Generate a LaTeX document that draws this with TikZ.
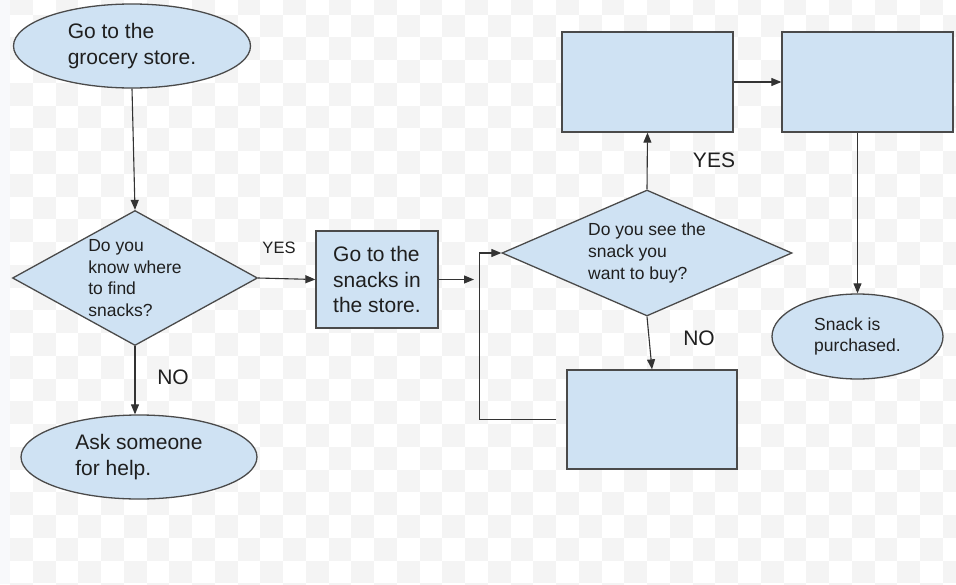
\documentclass[tikz,border=0pt]{standalone}
\usepackage{fontspec}
\setmainfont{Liberation Sans}
\usetikzlibrary{shapes.geometric,arrows.meta,calc}
\definecolor{boxblue}{HTML}{CFE2F3}
\definecolor{edgegray}{HTML}{4A4A4A}
\definecolor{checkgray}{HTML}{F4F4F4}
\definecolor{stripgray}{HTML}{F8F9FB}

\begin{document}
\begin{tikzpicture}[x=1pt, y=-1pt,
  every node/.style={font=\fontsize{17.5}{21.7}\selectfont, text=black!88},
  big/.style={font=\fontsize{21}{25.3}\selectfont},
  terminal/.style={ellipse, draw=edgegray, fill=boxblue, line width=1.3pt, inner sep=0pt, align=left},
  decision/.style={diamond, draw=edgegray, fill=boxblue, line width=1.3pt, inner sep=0pt, align=left},
  process/.style={rectangle, draw=edgegray, fill=boxblue, line width=1.3pt, inner sep=0pt, align=left},
  flow/.style={draw=black!80, line width=1.1pt, -{Triangle[length=10pt,width=8pt]}}]
  \useasboundingbox (0,0) rectangle (956,584);
  % checkered background
  \begin{scope}
    \clip (0,0) rectangle (956,584);
    \fill[white] (0,0) rectangle (956,584);
    \foreach \i in {0,...,41}{
      \foreach \j in {-1,...,25}{
        \pgfmathtruncatemacro{\cellodd}{mod(\i+\j+2,2)}
        \ifnum\cellodd=1
          \fill[checkgray] ({10+22.75*\i},{14.6+22.75*\j}) rectangle +(22.75,22.75);
        \fi
      }
    }
    \fill[stripgray] (0,0) rectangle (10,584);
  \end{scope}
  % left column
  \node[terminal, big, minimum width=237, minimum height=84] (grocery) at (132,46) {Go to the\\grocery store.};
  \node[decision, shape aspect=1.81, minimum width=245, minimum height=135] (knowwhere) at (135,278) {Do you\\know where\\to find\\snacks?};
  \node[terminal, big, minimum width=236, minimum height=84] (askhelp) at (139,457) {Ask someone\\for help.};
  % middle
  \node[process, big, minimum width=122, minimum height=97] (snacks) at (377,279.5) {Go to the\\snacks in\\the store.};
  \node[decision, shape aspect=2.3, minimum width=290, minimum height=126] (seesnack) at (647,253) {Do you see the\\snack you\\want to buy?};
  \node[process, minimum width=171, minimum height=100] (yesbox) at (647.5,82) {};
  \node[process, minimum width=170, minimum height=99] (nobox) at (652,419.5) {};
  % right column
  \node[process, minimum width=171, minimum height=100] (nextbox) at (867.5,82) {};
  \node[terminal, minimum width=171, minimum height=85] (purchased) at (857.5,336.5) {Snack is\\purchased.};
  % answer labels
  \node[font=\fontsize{16.5}{20}\selectfont] (yesone) at (279,248) {YES};
  \node[big] (noone) at (173,377) {NO};
  \node[big] (yestwo) at (714,160) {YES};
  \node[big] (notwo) at (699,338) {NO};
  % connectors
  \coordinate (joinin) at (474,279.5);
  \coordinate (loopback) at ([xshift=-10pt]nobox.west);
  \draw[flow] (grocery.south) -- (knowwhere.north);
  \draw[flow] (knowwhere.south) -- (knowwhere.south |- askhelp.north);
  \draw[flow] (knowwhere.east) -- (snacks.west);
  \draw[flow] (snacks.east) -- (joinin);
  \draw[flow] (loopback) -| ([xshift=-22pt]seesnack.west) -- (seesnack.west);
  \draw[flow] (seesnack.north) -- (yesbox.south);
  \draw[flow] (seesnack.south) -- (nobox.north);
  \draw[flow] (yesbox.east) -- (nextbox.west);
  \draw[flow] (nextbox.south -| purchased.north) -- (purchased.north);
\end{tikzpicture}
\end{document}
